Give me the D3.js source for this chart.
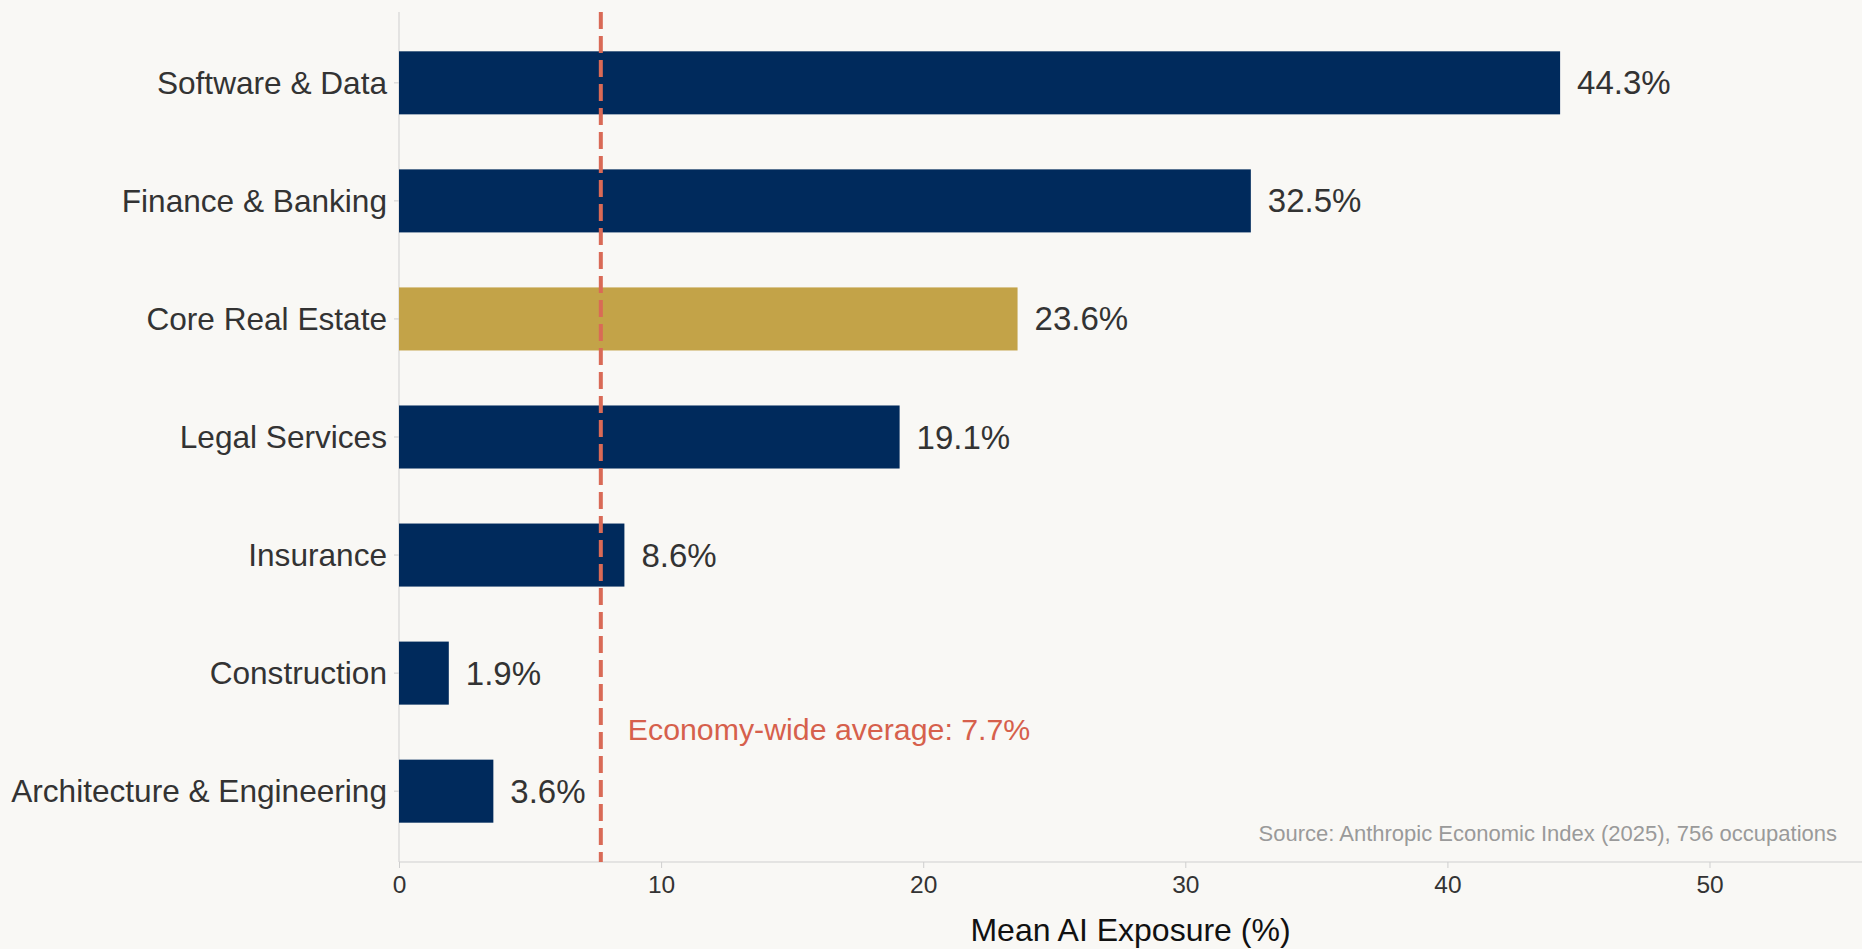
<!DOCTYPE html>
<html>
<head>
<meta charset="utf-8">
<script src="https://cdn.jsdelivr.net/npm/d3@7"></script>
<style>
  html, body { margin: 0; padding: 0; background: #f9f8f5; }
  svg { display: block; font-family: "Liberation Sans", Arial, sans-serif; }
  .axis path, .axis line { stroke: #cfcfcf; }
  .axis text { fill: #333; }
</style>
</head>
<body>
<svg width="1862" height="949"></svg>
<script>
const sectors = ['Software & Data', 'Finance & Banking', 'Core Real Estate', 'Legal Services',
                 'Insurance', 'Construction', 'Architecture & Engineering']
const exposure = [44.3, 32.5, 23.6, 19.1, 8.6, 1.9, 3.6]
const highlight = 'Core Real Estate'
const average = 7.7
const xTicks = [0, 10, 20, 30, 40, 50]

const data = sectors.map((s, i) => ({ sector: s, value: exposure[i] }))

const margin = { top: 12, right: 0, bottom: 87, left: 399 }
const width = 1862
const height = 949
const innerW = width - margin.left - margin.right
const innerH = height - margin.top - margin.bottom

const svg = d3.select('svg')
const g = svg.append('g').attr('transform', `translate(${margin.left},${margin.top})`)

const x = d3.scaleLinear()
            .domain([0, d3.max(exposure) * 1.26])
            .range([0, innerW])
const y = d3.scaleBand()
            .domain(sectors)
            .range([0, innerH])
            .paddingInner(0.466)
            .paddingOuter(0.333)

// x axis
const xAxisG = g.append('g')
    .attr('class', 'axis')
    .attr('transform', `translate(0,${innerH})`)
    .call(d3.axisBottom(x).tickValues(xTicks).tickSize(6).tickPadding(8))
xAxisG.selectAll('text').style('font-size', '24.5px')
xAxisG.select('.domain').attr('d', `M0,0H${innerW}`)

// y axis
const yAxisG = g.append('g')
    .attr('class', 'axis')
    .call(d3.axisLeft(y).tickSize(5).tickPadding(7))
yAxisG.selectAll('text').style('font-size', '31.6px').attr('dy', '0.35em')
yAxisG.select('.domain').attr('d', `M0,0V${innerH}`)
yAxisG.selectAll('.tick line').attr('stroke', '#999')

// bars
g.selectAll('.bar')
  .data(data)
  .enter()
  .append('rect')
  .attr('class', 'bar')
  .attr('x', 0)
  .attr('y', d => y(d.sector))
  .attr('width', d => x(d.value))
  .attr('height', y.bandwidth())
  .attr('fill', d => d.sector === highlight ? '#c3a348' : '#002a5c')

// value labels
g.selectAll('.val')
  .data(data)
  .enter()
  .append('text')
  .attr('x', d => x(d.value) + 17)
  .attr('y', d => y(d.sector) + y.bandwidth() / 2)
  .attr('dy', '0.35em')
  .attr('fill', '#333')
  .style('font-size', '33px')
  .text(d => d.value.toFixed(1) + '%')

// average line
g.append('line')
  .attr('x1', x(average)).attr('x2', x(average))
  .attr('y1', 0).attr('y2', innerH)
  .attr('stroke', '#d96a56')
  .attr('stroke-width', 4)
  .attr('stroke-dasharray', '17,7')

g.append('text')
  .attr('x', x(average) + 27)
  .attr('y', 728)
  .attr('fill', '#d6604c')
  .style('font-size', '30.3px')
  .text(`Economy-wide average: ${average}%`)

// source note
g.append('text')
  .attr('x', 1837 - margin.left)
  .attr('y', 829)
  .attr('text-anchor', 'end')
  .attr('fill', '#9a9a9a')
  .style('font-size', '22px')
  .text('Source: Anthropic Economic Index (2025), 756 occupations')

// axis title
svg.append('text')
  .attr('x', margin.left + innerW / 2)
  .attr('y', 941)
  .attr('text-anchor', 'middle')
  .attr('fill', '#111')
  .style('font-size', '32px')
  .text('Mean AI Exposure (%)')
</script>
</body>
</html>
